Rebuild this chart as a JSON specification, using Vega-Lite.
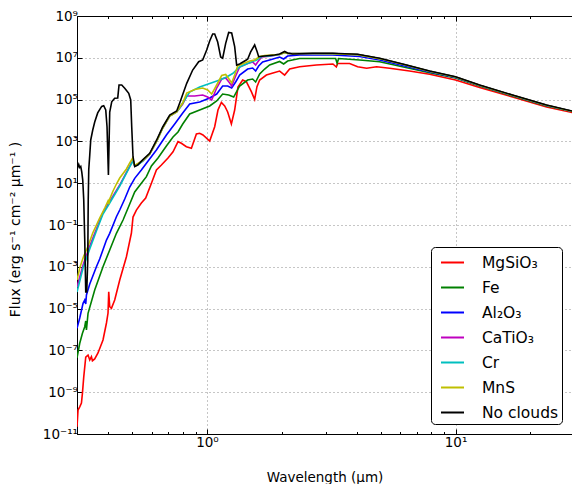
{
  "$schema": "https://vega.github.io/schema/vega-lite/v6.json",
  "width": 495,
  "height": 418,
  "autosize": "none",
  "padding": {"left": 77, "top": 16, "right": 0, "bottom": 50},
  "background": "white",
  "config": {"view": {"stroke": null}, "font": "DejaVu Sans"},
  "datasets": {
    "spectra": [
      {"cloud":"MgSiO₃","wavelength":0.3,"flux":2.2e-11},{"cloud":"MgSiO₃","wavelength":0.3029,"flux":1.4e-10},{"cloud":"MgSiO₃","wavelength":0.3077,"flux":2.0e-10},{"cloud":"MgSiO₃","wavelength":0.3126,"flux":3.0e-10},{"cloud":"MgSiO₃","wavelength":0.3155,"flux":9.0e-10},{"cloud":"MgSiO₃","wavelength":0.3193,"flux":5.3e-9},{"cloud":"MgSiO₃","wavelength":0.3253,"flux":4.8e-8},{"cloud":"MgSiO₃","wavelength":0.3323,"flux":6.0e-8},{"cloud":"MgSiO₃","wavelength":0.3376,"flux":3.5e-8},{"cloud":"MgSiO₃","wavelength":0.3429,"flux":5.0e-8},{"cloud":"MgSiO₃","wavelength":0.3461,"flux":3.2e-8},{"cloud":"MgSiO₃","wavelength":0.3535,"flux":3.9e-8},{"cloud":"MgSiO₃","wavelength":0.3644,"flux":7.5e-8},{"cloud":"MgSiO₃","wavelength":0.3817,"flux":3.15e-7},{"cloud":"MgSiO₃","wavelength":0.3941,"flux":2.05e-6},{"cloud":"MgSiO₃","wavelength":0.3999,"flux":6.15e-6},{"cloud":"MgSiO₃","wavelength":0.4025,"flux":6.4e-5},{"cloud":"MgSiO₃","wavelength":0.4062,"flux":1.23e-5},{"cloud":"MgSiO₃","wavelength":0.4127,"flux":1.03e-5},{"cloud":"MgSiO₃","wavelength":0.4254,"flux":2.6e-5},{"cloud":"MgSiO₃","wavelength":0.4457,"flux":2.33e-4},{"cloud":"MgSiO₃","wavelength":0.4742,"flux":3.04e-3},{"cloud":"MgSiO₃","wavelength":0.4966,"flux":4.14e-2},{"cloud":"MgSiO₃","wavelength":0.504,"flux":0.24},{"cloud":"MgSiO₃","wavelength":0.52,"flux":0.52},{"cloud":"MgSiO₃","wavelength":0.5445,"flux":1.13},{"cloud":"MgSiO₃","wavelength":0.5668,"flux":1.96},{"cloud":"MgSiO₃","wavelength":0.5977,"flux":9.9},{"cloud":"MgSiO₃","wavelength":0.626,"flux":43},{"cloud":"MgSiO₃","wavelength":0.6557,"flux":74},{"cloud":"MgSiO₃","wavelength":0.6969,"flux":160},{"cloud":"MgSiO₃","wavelength":0.7301,"flux":320},{"cloud":"MgSiO₃","wavelength":0.7647,"flux":970},{"cloud":"MgSiO₃","wavelength":0.7888,"flux":810},{"cloud":"MgSiO₃","wavelength":0.8263,"flux":560},{"cloud":"MgSiO₃","wavelength":0.8656,"flux":470},{"cloud":"MgSiO₃","wavelength":0.9066,"flux":2260},{"cloud":"MgSiO₃","wavelength":0.9346,"flux":2440},{"cloud":"MgSiO₃","wavelength":0.9636,"flux":2020},{"cloud":"MgSiO₃","wavelength":1.0254,"flux":1040},{"cloud":"MgSiO₃","wavelength":1.0739,"flux":5050},{"cloud":"MgSiO₃","wavelength":1.1072,"flux":31800},{"cloud":"MgSiO₃","wavelength":1.1426,"flux":72600},{"cloud":"MgSiO₃","wavelength":1.1781,"flux":49400},{"cloud":"MgSiO₃","wavelength":1.2113,"flux":25500},{"cloud":"MgSiO₃","wavelength":1.2535,"flux":6800},{"cloud":"MgSiO₃","wavelength":1.2923,"flux":31800},{"cloud":"MgSiO₃","wavelength":1.3323,"flux":400000},{"cloud":"MgSiO₃","wavelength":1.3914,"flux":867000},{"cloud":"MgSiO₃","wavelength":1.4399,"flux":718000},{"cloud":"MgSiO₃","wavelength":1.5083,"flux":239000},{"cloud":"MgSiO₃","wavelength":1.5552,"flux":101000},{"cloud":"MgSiO₃","wavelength":1.5888,"flux":414000},{"cloud":"MgSiO₃","wavelength":1.6291,"flux":867000},{"cloud":"MgSiO₃","wavelength":1.7335,"flux":1.5e6},{"cloud":"MgSiO₃","wavelength":1.8426,"flux":1.87e6},{"cloud":"MgSiO₃","wavelength":1.96,"flux":2.33e6},{"cloud":"MgSiO₃","wavelength":2.0529,"flux":1.5e6},{"cloud":"MgSiO₃","wavelength":2.1503,"flux":2.91e6},{"cloud":"MgSiO₃","wavelength":2.359,"flux":3.75e6},{"cloud":"MgSiO₃","wavelength":2.7542,"flux":4.53e6},{"cloud":"MgSiO₃","wavelength":3.2113,"flux":5.05e6},{"cloud":"MgSiO₃","wavelength":3.3137,"flux":3.63e6},{"cloud":"MgSiO₃","wavelength":3.3537,"flux":5.33e6},{"cloud":"MgSiO₃","wavelength":3.7478,"flux":5.33e6},{"cloud":"MgSiO₃","wavelength":4.0363,"flux":3.75e6},{"cloud":"MgSiO₃","wavelength":4.3872,"flux":3.15e6},{"cloud":"MgSiO₃","wavelength":4.8128,"flux":3.75e6},{"cloud":"MgSiO₃","wavelength":5.4283,"flux":3.15e6},{"cloud":"MgSiO₃","wavelength":6.5313,"flux":2.33e6},{"cloud":"MgSiO₃","wavelength":7.8634,"flux":1.63e6},{"cloud":"MgSiO₃","wavelength":10,"flux":867000},{"cloud":"MgSiO₃","wavelength":12.49,"flux":379000},{"cloud":"MgSiO₃","wavelength":16.95,"flux":133000},{"cloud":"MgSiO₃","wavelength":23.23,"flux":44300},{"cloud":"MgSiO₃","wavelength":30,"flux":22900},

      {"cloud":"Fe","wavelength":0.3,"flux":4.4e-8},{"cloud":"Fe","wavelength":0.3077,"flux":2.2e-7},{"cloud":"Fe","wavelength":0.3155,"flux":6.6e-7},{"cloud":"Fe","wavelength":0.3223,"flux":1.36e-6},{"cloud":"Fe","wavelength":0.3253,"flux":2.55e-6},{"cloud":"Fe","wavelength":0.3274,"flux":9.5e-7},{"cloud":"Fe","wavelength":0.3323,"flux":5.96e-6},{"cloud":"Fe","wavelength":0.3535,"flux":7.76e-5},{"cloud":"Fe","wavelength":0.3817,"flux":1.01e-3},{"cloud":"Fe","wavelength":0.4062,"flux":6.37e-3},{"cloud":"Fe","wavelength":0.4322,"flux":4.0e-2},{"cloud":"Fe","wavelength":0.4596,"flux":0.173},{"cloud":"Fe","wavelength":0.4889,"flux":1.01},{"cloud":"Fe","wavelength":0.512,"flux":3.79},{"cloud":"Fe","wavelength":0.5445,"flux":9.9},{"cloud":"Fe","wavelength":0.5705,"flux":20.5},{"cloud":"Fe","wavelength":0.5977,"flux":66.5},{"cloud":"Fe","wavelength":0.6353,"flux":161},{"cloud":"Fe","wavelength":0.6866,"flux":603},{"cloud":"Fe","wavelength":0.7301,"flux":1630},{"cloud":"Fe","wavelength":0.7647,"flux":2820},{"cloud":"Fe","wavelength":0.7988,"flux":6800},{"cloud":"Fe","wavelength":0.8519,"flux":20500},{"cloud":"Fe","wavelength":0.9346,"flux":31800},{"cloud":"Fe","wavelength":1.0254,"flux":49400},{"cloud":"Fe","wavelength":1.094,"flux":85700},{"cloud":"Fe","wavelength":1.1564,"flux":185000},{"cloud":"Fe","wavelength":1.2226,"flux":166000},{"cloud":"Fe","wavelength":1.2804,"flux":133000},{"cloud":"Fe","wavelength":1.3534,"flux":448000},{"cloud":"Fe","wavelength":1.4574,"flux":867000},{"cloud":"Fe","wavelength":1.5266,"flux":968000},{"cloud":"Fe","wavelength":1.5697,"flux":695000},{"cloud":"Fe","wavelength":1.6291,"flux":1.68e6},{"cloud":"Fe","wavelength":1.7061,"flux":2.91e6},{"cloud":"Fe","wavelength":1.7868,"flux":4.53e6},{"cloud":"Fe","wavelength":1.96,"flux":6.65e6},{"cloud":"Fe","wavelength":2.0341,"flux":5.05e6},{"cloud":"Fe","wavelength":2.1107,"flux":7.03e6},{"cloud":"Fe","wavelength":2.359,"flux":9.27e6},{"cloud":"Fe","wavelength":3.2926,"flux":9.27e6},{"cloud":"Fe","wavelength":3.3386,"flux":5.5e6},{"cloud":"Fe","wavelength":3.3851,"flux":9.27e6},{"cloud":"Fe","wavelength":4.1115,"flux":7.85e6},{"cloud":"Fe","wavelength":4.9488,"flux":6.5e6},{"cloud":"Fe","wavelength":7.8634,"flux":1.94e6},{"cloud":"Fe","wavelength":10,"flux":1.08e6},{"cloud":"Fe","wavelength":12.49,"flux":448000},{"cloud":"Fe","wavelength":16.95,"flux":149000},{"cloud":"Fe","wavelength":23.23,"flux":49400},{"cloud":"Fe","wavelength":30,"flux":25500},

      {"cloud":"Al₂O₃","wavelength":0.3,"flux":1.14e-6},{"cloud":"Al₂O₃","wavelength":0.3077,"flux":3.55e-6},{"cloud":"Al₂O₃","wavelength":0.3173,"flux":1.79e-5},{"cloud":"Al₂O₃","wavelength":0.3223,"flux":2.58e-5},{"cloud":"Al₂O₃","wavelength":0.3253,"flux":1.66e-5},{"cloud":"Al₂O₃","wavelength":0.3274,"flux":4.48e-5},{"cloud":"Al₂O₃","wavelength":0.3376,"flux":1.5e-4},{"cloud":"Al₂O₃","wavelength":0.3591,"flux":1.01e-3},{"cloud":"Al₂O₃","wavelength":0.3702,"flux":2.36e-3},{"cloud":"Al₂O₃","wavelength":0.3941,"flux":1.91e-2},{"cloud":"Al₂O₃","wavelength":0.4062,"flux":4.0e-2},{"cloud":"Al₂O₃","wavelength":0.4322,"flux":0.249},{"cloud":"Al₂O₃","wavelength":0.4457,"flux":0.522},{"cloud":"Al₂O₃","wavelength":0.4668,"flux":1.75},{"cloud":"Al₂O₃","wavelength":0.4889,"flux":6.58},{"cloud":"Al₂O₃","wavelength":0.512,"flux":17.1},{"cloud":"Al₂O₃","wavelength":0.5445,"flux":42.9},{"cloud":"Al₂O₃","wavelength":0.5705,"flux":89.5},{"cloud":"Al₂O₃","wavelength":0.626,"flux":388},{"cloud":"Al₂O₃","wavelength":0.6866,"flux":2020},{"cloud":"Al₂O₃","wavelength":0.7415,"flux":6800},{"cloud":"Al₂O₃","wavelength":0.7988,"flux":22900},{"cloud":"Al₂O₃","wavelength":0.8519,"flux":61500},{"cloud":"Al₂O₃","wavelength":0.9346,"flux":76700},{"cloud":"Al₂O₃","wavelength":1.0254,"flux":119000},{"cloud":"Al₂O₃","wavelength":1.094,"flux":185000},{"cloud":"Al₂O₃","wavelength":1.1564,"flux":448000},{"cloud":"Al₂O₃","wavelength":1.2113,"flux":448000},{"cloud":"Al₂O₃","wavelength":1.257,"flux":359000},{"cloud":"Al₂O₃","wavelength":1.3042,"flux":695000},{"cloud":"Al₂O₃","wavelength":1.3534,"flux":1.5e6},{"cloud":"Al₂O₃","wavelength":1.4574,"flux":2.91e6},{"cloud":"Al₂O₃","wavelength":1.5266,"flux":3.25e6},{"cloud":"Al₂O₃","wavelength":1.5697,"flux":2.33e6},{"cloud":"Al₂O₃","wavelength":1.6139,"flux":4.06e6},{"cloud":"Al₂O₃","wavelength":1.6749,"flux":6.3e6},{"cloud":"Al₂O₃","wavelength":1.7868,"flux":7.85e6},{"cloud":"Al₂O₃","wavelength":1.96,"flux":1.09e7},{"cloud":"Al₂O₃","wavelength":2.0341,"flux":8.77e6},{"cloud":"Al₂O₃","wavelength":2.1107,"flux":1.22e7},{"cloud":"Al₂O₃","wavelength":2.359,"flux":1.36e7},{"cloud":"Al₂O₃","wavelength":3.2021,"flux":1.36e7},{"cloud":"Al₂O₃","wavelength":4.1115,"flux":1.15e7},{"cloud":"Al₂O₃","wavelength":4.9488,"flux":7.85e6},{"cloud":"Al₂O₃","wavelength":7.8634,"flux":2.09e6},{"cloud":"Al₂O₃","wavelength":10,"flux":1.14e6},{"cloud":"Al₂O₃","wavelength":12.49,"flux":473000},{"cloud":"Al₂O₃","wavelength":16.95,"flux":157000},{"cloud":"Al₂O₃","wavelength":23.23,"flux":52200},{"cloud":"Al₂O₃","wavelength":30,"flux":26400},

      {"cloud":"CaTiO₃","wavelength":0.3,"flux":1.08e-4},{"cloud":"CaTiO₃","wavelength":0.3173,"flux":1.22e-3},{"cloud":"CaTiO₃","wavelength":0.3376,"flux":9.9e-3},{"cloud":"CaTiO₃","wavelength":0.3591,"flux":6.44e-2},{"cloud":"CaTiO₃","wavelength":0.3817,"flux":0.396},{"cloud":"CaTiO₃","wavelength":0.4062,"flux":1.33},{"cloud":"CaTiO₃","wavelength":0.4457,"flux":8.2},{"cloud":"CaTiO₃","wavelength":0.4889,"flux":66.5},{"cloud":"CaTiO₃","wavelength":0.504,"flux":129},{"cloud":"CaTiO₃","wavelength":0.512,"flux":66.5},{"cloud":"CaTiO₃","wavelength":0.5512,"flux":115},{"cloud":"CaTiO₃","wavelength":0.5883,"flux":249},{"cloud":"CaTiO₃","wavelength":0.6275,"flux":1040},{"cloud":"CaTiO₃","wavelength":0.6636,"flux":4380},{"cloud":"CaTiO₃","wavelength":0.708,"flux":16400},{"cloud":"CaTiO₃","wavelength":0.7554,"flux":25500},{"cloud":"CaTiO₃","wavelength":0.7767,"flux":39600},{"cloud":"CaTiO₃","wavelength":0.7988,"flux":61500},{"cloud":"CaTiO₃","wavelength":0.8288,"flux":149000},{"cloud":"CaTiO₃","wavelength":0.8924,"flux":149000},{"cloud":"CaTiO₃","wavelength":0.961,"flux":166000},{"cloud":"CaTiO₃","wavelength":1.0065,"flux":133000},{"cloud":"CaTiO₃","wavelength":1.0445,"flux":95700},{"cloud":"CaTiO₃","wavelength":1.094,"flux":359000},{"cloud":"CaTiO₃","wavelength":1.1459,"flux":968000},{"cloud":"CaTiO₃","wavelength":1.1891,"flux":1.08e6},{"cloud":"CaTiO₃","wavelength":1.2341,"flux":622000},{"cloud":"CaTiO₃","wavelength":1.257,"flux":448000},{"cloud":"CaTiO₃","wavelength":1.3042,"flux":1.35e6},{"cloud":"CaTiO₃","wavelength":1.3534,"flux":3.63e6},{"cloud":"CaTiO₃","wavelength":1.4574,"flux":5.33e6},{"cloud":"CaTiO₃","wavelength":1.5266,"flux":6.3e6},{"cloud":"CaTiO₃","wavelength":1.5697,"flux":4.53e6},{"cloud":"CaTiO₃","wavelength":1.5993,"flux":6.3e6},{"cloud":"CaTiO₃","wavelength":1.6596,"flux":1.09e7},{"cloud":"CaTiO₃","wavelength":1.7868,"flux":1.19e7},{"cloud":"CaTiO₃","wavelength":1.96,"flux":1.44e7},{"cloud":"CaTiO₃","wavelength":2.0529,"flux":1.79e7},{"cloud":"CaTiO₃","wavelength":2.1107,"flux":1.61e7},{"cloud":"CaTiO₃","wavelength":2.359,"flux":1.61e7},{"cloud":"CaTiO₃","wavelength":3.2021,"flux":1.58e7},{"cloud":"CaTiO₃","wavelength":4.0363,"flux":1.42e7},{"cloud":"CaTiO₃","wavelength":4.9488,"flux":9.16e6},{"cloud":"CaTiO₃","wavelength":6.3533,"flux":4.38e6},{"cloud":"CaTiO₃","wavelength":7.8634,"flux":2.26e6},{"cloud":"CaTiO₃","wavelength":10,"flux":1.2e6},{"cloud":"CaTiO₃","wavelength":12.49,"flux":483000},{"cloud":"CaTiO₃","wavelength":16.95,"flux":161000},{"cloud":"CaTiO₃","wavelength":23.23,"flux":53300},{"cloud":"CaTiO₃","wavelength":30,"flux":26100},

      {"cloud":"Cr","wavelength":0.3,"flux":6.22e-5},{"cloud":"Cr","wavelength":0.3173,"flux":8.77e-4},{"cloud":"Cr","wavelength":0.3376,"flux":7.11e-3},{"cloud":"Cr","wavelength":0.3591,"flux":5.16e-2},{"cloud":"Cr","wavelength":0.3817,"flux":0.336},{"cloud":"Cr","wavelength":0.4062,"flux":1.13},{"cloud":"Cr","wavelength":0.4457,"flux":7.35},{"cloud":"Cr","wavelength":0.4889,"flux":59.6},{"cloud":"Cr","wavelength":0.504,"flux":115},{"cloud":"Cr","wavelength":0.512,"flux":66.5},{"cloud":"Cr","wavelength":0.5264,"flux":74.3},{"cloud":"Cr","wavelength":0.5512,"flux":115},{"cloud":"Cr","wavelength":0.5883,"flux":249},{"cloud":"Cr","wavelength":0.6275,"flux":1040},{"cloud":"Cr","wavelength":0.6636,"flux":4380},{"cloud":"Cr","wavelength":0.708,"flux":16400},{"cloud":"Cr","wavelength":0.7554,"flux":25500},{"cloud":"Cr","wavelength":0.7767,"flux":39600},{"cloud":"Cr","wavelength":0.7988,"flux":68700},{"cloud":"Cr","wavelength":0.8519,"flux":231000},{"cloud":"Cr","wavelength":0.9346,"flux":401000},{"cloud":"Cr","wavelength":1.0254,"flux":589000},{"cloud":"Cr","wavelength":1.1247,"flux":867000},{"cloud":"Cr","wavelength":1.2,"flux":1.2e6},{"cloud":"Cr","wavelength":1.2686,"flux":1.77e6},{"cloud":"Cr","wavelength":1.3534,"flux":3.63e6},{"cloud":"Cr","wavelength":1.4574,"flux":5.33e6},{"cloud":"Cr","wavelength":1.5844,"flux":7.85e6},{"cloud":"Cr","wavelength":1.6596,"flux":1.15e7},{"cloud":"Cr","wavelength":1.7868,"flux":1.22e7},{"cloud":"Cr","wavelength":1.96,"flux":1.44e7},{"cloud":"Cr","wavelength":2.0529,"flux":1.79e7},{"cloud":"Cr","wavelength":2.1107,"flux":1.61e7},{"cloud":"Cr","wavelength":2.359,"flux":1.61e7},{"cloud":"Cr","wavelength":3.2021,"flux":1.58e7},{"cloud":"Cr","wavelength":4.0363,"flux":1.42e7},{"cloud":"Cr","wavelength":4.9488,"flux":9.16e6},{"cloud":"Cr","wavelength":6.3533,"flux":4.38e6},{"cloud":"Cr","wavelength":7.8634,"flux":2.26e6},{"cloud":"Cr","wavelength":10,"flux":1.2e6},{"cloud":"Cr","wavelength":12.49,"flux":483000},{"cloud":"Cr","wavelength":16.95,"flux":161000},{"cloud":"Cr","wavelength":23.23,"flux":53300},{"cloud":"Cr","wavelength":30,"flux":26100},

      {"cloud":"MnS","wavelength":0.3,"flux":2.33e-4},{"cloud":"MnS","wavelength":0.3077,"flux":8.77e-4},{"cloud":"MnS","wavelength":0.3193,"flux":3.29e-3},{"cloud":"MnS","wavelength":0.3314,"flux":8.85e-3},{"cloud":"MnS","wavelength":0.3471,"flux":4.14e-2},{"cloud":"MnS","wavelength":0.3702,"flux":0.216},{"cloud":"MnS","wavelength":0.3879,"flux":0.65},{"cloud":"MnS","wavelength":0.3999,"flux":1.41},{"cloud":"MnS","wavelength":0.4025,"flux":1.01},{"cloud":"MnS","wavelength":0.4062,"flux":1.75},{"cloud":"MnS","wavelength":0.4188,"flux":4.24},{"cloud":"MnS","wavelength":0.4322,"flux":9.16},{"cloud":"MnS","wavelength":0.4457,"flux":17.7},{"cloud":"MnS","wavelength":0.4742,"flux":47.8},{"cloud":"MnS","wavelength":0.4889,"flux":92.7},{"cloud":"MnS","wavelength":0.5026,"flux":161},{"cloud":"MnS","wavelength":0.512,"flux":70.3},{"cloud":"MnS","wavelength":0.5512,"flux":122},{"cloud":"MnS","wavelength":0.5883,"flux":249},{"cloud":"MnS","wavelength":0.6275,"flux":1040},{"cloud":"MnS","wavelength":0.6636,"flux":4380},{"cloud":"MnS","wavelength":0.708,"flux":16400},{"cloud":"MnS","wavelength":0.7554,"flux":25500},{"cloud":"MnS","wavelength":0.7767,"flux":44300},{"cloud":"MnS","wavelength":0.7988,"flux":68700},{"cloud":"MnS","wavelength":0.8288,"flux":207000},{"cloud":"MnS","wavelength":0.8924,"flux":304000},{"cloud":"MnS","wavelength":0.961,"flux":359000},{"cloud":"MnS","wavelength":1.0065,"flux":288000},{"cloud":"MnS","wavelength":1.0445,"flux":185000},{"cloud":"MnS","wavelength":1.094,"flux":500000},{"cloud":"MnS","wavelength":1.1459,"flux":1.42e6},{"cloud":"MnS","wavelength":1.1891,"flux":1.59e6},{"cloud":"MnS","wavelength":1.2341,"flux":867000},{"cloud":"MnS","wavelength":1.257,"flux":622000},{"cloud":"MnS","wavelength":1.2923,"flux":1.5e6},{"cloud":"MnS","wavelength":1.3286,"flux":4.06e6},{"cloud":"MnS","wavelength":1.4175,"flux":5.64e6},{"cloud":"MnS","wavelength":1.4848,"flux":7.03e6},{"cloud":"MnS","wavelength":1.5552,"flux":7.85e6},{"cloud":"MnS","wavelength":1.6291,"flux":1.15e7},{"cloud":"MnS","wavelength":1.7061,"flux":1.29e7},{"cloud":"MnS","wavelength":1.96,"flux":1.44e7},{"cloud":"MnS","wavelength":2.0529,"flux":1.78e7},{"cloud":"MnS","wavelength":2.1107,"flux":1.61e7},{"cloud":"MnS","wavelength":2.359,"flux":1.61e7},{"cloud":"MnS","wavelength":3.2021,"flux":1.58e7},{"cloud":"MnS","wavelength":4.0363,"flux":1.42e7},{"cloud":"MnS","wavelength":4.9488,"flux":9.16e6},{"cloud":"MnS","wavelength":6.3533,"flux":4.38e6},{"cloud":"MnS","wavelength":7.8634,"flux":2.26e6},{"cloud":"MnS","wavelength":10,"flux":1.2e6},{"cloud":"MnS","wavelength":12.49,"flux":483000},{"cloud":"MnS","wavelength":16.95,"flux":161000},{"cloud":"MnS","wavelength":23.23,"flux":53300},{"cloud":"MnS","wavelength":30,"flux":26100},

      {"cloud":"No clouds","wavelength":0.3,"flux":45},{"cloud":"No clouds","wavelength":0.3048,"flux":79},{"cloud":"No clouds","wavelength":0.3077,"flux":56},{"cloud":"No clouds","wavelength":0.3106,"flux":63},{"cloud":"No clouds","wavelength":0.3135,"flux":35},{"cloud":"No clouds","wavelength":0.3164,"flux":14},{"cloud":"No clouds","wavelength":0.3193,"flux":1.6},{"cloud":"No clouds","wavelength":0.3223,"flux":0.02},{"cloud":"No clouds","wavelength":0.3253,"flux":6.3e-5},{"cloud":"No clouds","wavelength":0.3283,"flux":6.3e-5},{"cloud":"No clouds","wavelength":0.3314,"flux":2.0e-3},{"cloud":"No clouds","wavelength":0.3329,"flux":1.6},{"cloud":"No clouds","wavelength":0.3345,"flux":45},{"cloud":"No clouds","wavelength":0.3376,"flux":220},{"cloud":"No clouds","wavelength":0.3407,"flux":1170},{"cloud":"No clouds","wavelength":0.3471,"flux":3500},{"cloud":"No clouds","wavelength":0.3535,"flux":8500},{"cloud":"No clouds","wavelength":0.3634,"flux":23000},{"cloud":"No clouds","wavelength":0.3771,"flux":47000},{"cloud":"No clouds","wavelength":0.3842,"flux":51000},{"cloud":"No clouds","wavelength":0.3915,"flux":32000},{"cloud":"No clouds","wavelength":0.3962,"flux":5000},{"cloud":"No clouds","wavelength":0.4013,"flux":25},{"cloud":"No clouds","wavelength":0.4062,"flux":25500},{"cloud":"No clouds","wavelength":0.4138,"flux":79000},{"cloud":"No clouds","wavelength":0.4254,"flux":115000},{"cloud":"No clouds","wavelength":0.4375,"flux":120000},{"cloud":"No clouds","wavelength":0.4428,"flux":500000},{"cloud":"No clouds","wavelength":0.454,"flux":500000},{"cloud":"No clouds","wavelength":0.4668,"flux":350000},{"cloud":"No clouds","wavelength":0.4844,"flux":200000},{"cloud":"No clouds","wavelength":0.4934,"flux":96000},{"cloud":"No clouds","wavelength":0.498,"flux":5000},{"cloud":"No clouds","wavelength":0.504,"flux":185},{"cloud":"No clouds","wavelength":0.512,"flux":62},{"cloud":"No clouds","wavelength":0.5264,"flux":74},{"cloud":"No clouds","wavelength":0.5512,"flux":130},{"cloud":"No clouds","wavelength":0.5883,"flux":270},{"cloud":"No clouds","wavelength":0.6275,"flux":1170},{"cloud":"No clouds","wavelength":0.6636,"flux":4900},{"cloud":"No clouds","wavelength":0.708,"flux":18000},{"cloud":"No clouds","wavelength":0.7554,"flux":28500},{"cloud":"No clouds","wavelength":0.7767,"flux":69000},{"cloud":"No clouds","wavelength":0.8288,"flux":600000},{"cloud":"No clouds","wavelength":0.8759,"flux":2.6e6},{"cloud":"No clouds","wavelength":0.926,"flux":6.5e6},{"cloud":"No clouds","wavelength":0.961,"flux":7.85e6},{"cloud":"No clouds","wavelength":0.9972,"flux":2.36e7},{"cloud":"No clouds","wavelength":1.0254,"flux":6.4e7},{"cloud":"No clouds","wavelength":1.0542,"flux":1.38e8},{"cloud":"No clouds","wavelength":1.0739,"flux":1.38e8},{"cloud":"No clouds","wavelength":1.1042,"flux":5.7e7},{"cloud":"No clouds","wavelength":1.1352,"flux":1.09e7},{"cloud":"No clouds","wavelength":1.1564,"flux":9.5e6},{"cloud":"No clouds","wavelength":1.1891,"flux":4.9e7},{"cloud":"No clouds","wavelength":1.2226,"flux":1.63e8},{"cloud":"No clouds","wavelength":1.257,"flux":1.54e8},{"cloud":"No clouds","wavelength":1.2923,"flux":3.4e7},{"cloud":"No clouds","wavelength":1.3164,"flux":4.5e6},{"cloud":"No clouds","wavelength":1.3534,"flux":5.05e6},{"cloud":"No clouds","wavelength":1.4175,"flux":7.0e6},{"cloud":"No clouds","wavelength":1.4574,"flux":8.5e6},{"cloud":"No clouds","wavelength":1.4985,"flux":1.9e7},{"cloud":"No clouds","wavelength":1.5552,"flux":4.1e7},{"cloud":"No clouds","wavelength":1.5916,"flux":1.96e7},{"cloud":"No clouds","wavelength":1.6139,"flux":1.13e7},{"cloud":"No clouds","wavelength":1.7061,"flux":1.22e7},{"cloud":"No clouds","wavelength":1.8714,"flux":1.36e7},{"cloud":"No clouds","wavelength":1.96,"flux":1.52e7},{"cloud":"No clouds","wavelength":2.0529,"flux":2.0e7},{"cloud":"No clouds","wavelength":2.1107,"flux":1.7e7},{"cloud":"No clouds","wavelength":2.2108,"flux":1.52e7},{"cloud":"No clouds","wavelength":2.6607,"flux":1.64e7},{"cloud":"No clouds","wavelength":3.2021,"flux":1.64e7},{"cloud":"No clouds","wavelength":4.0363,"flux":1.47e7},{"cloud":"No clouds","wavelength":4.9488,"flux":9.5e6},{"cloud":"No clouds","wavelength":6.3533,"flux":4.5e6},{"cloud":"No clouds","wavelength":7.8634,"flux":2.33e6},{"cloud":"No clouds","wavelength":10,"flux":1.25e6},{"cloud":"No clouds","wavelength":12.49,"flux":500000},{"cloud":"No clouds","wavelength":16.95,"flux":166000},{"cloud":"No clouds","wavelength":23.23,"flux":55000},{"cloud":"No clouds","wavelength":30,"flux":27000}
    ]
  },
  "data": {"name": "spectra"},
  "layer": [
    {
      "mark": {"type": "line", "clip": true, "strokeWidth": 1.6},
      "encoding": {
        "x": {
          "field": "wavelength", "type": "quantitative",
          "scale": {"type": "log", "domain": [0.3, 29.4], "nice": false},
          "axis": {
            "orient": "bottom",
            "values": [0.3,0.4,0.5,0.6,0.7,0.8,0.9,1,2,3,4,5,6,7,8,9,10,20],
            "labelExpr": "datum.value == 1 ? '10⁰' : datum.value == 10 ? '10¹' : ''",
            "labelOverlap": false, "labelFlush": false,
            "labelFontSize": 13.5, "labelColor": "#000", "labelPadding": 6,
            "tickColor": "#000", "tickWidth": 1,
            "tickSize": {"condition": {"test": "datum.value == 1 || datum.value == 10", "value": -5}, "value": -2.5},
            "domainColor": "#000", "domainWidth": 1,
            "grid": true, "gridDash": [1, 3], "gridColor": "#8c8c8c", "gridWidth": 1,
            "gridOpacity": {"condition": {"test": "datum.value == 1 || datum.value == 10", "value": 1}, "value": 0},
            "title": "Wavelength (μm)", "titleFontSize": 13.5, "titleFontWeight": "normal", "titleColor": "#000",
            "titleBaseline": "alphabetic", "titleY": 47
          }
        },
        "y": {
          "field": "flux", "type": "quantitative",
          "scale": {"type": "log", "domain": [1e-11, 1e9], "nice": false},
          "axis": {
            "orient": "left",
            "values": [1e9, 1e7, 1e5, 1000, 10, 0.1, 0.001, 1e-5, 1e-7, 1e-9, 1e-11],
            "labelExpr": "datum.value == 1e9 ? '10⁹' : datum.value == 1e7 ? '10⁷' : datum.value == 1e5 ? '10⁵' : datum.value == 1000 ? '10³' : datum.value == 10 ? '10¹' : datum.value == 0.1 ? '10⁻¹' : datum.value == 0.001 ? '10⁻³' : datum.value == 1e-5 ? '10⁻⁵' : datum.value == 1e-7 ? '10⁻⁷' : datum.value == 1e-9 ? '10⁻⁹' : '10⁻¹¹'",
            "labelOverlap": false, "labelFlush": false,
            "labelFontSize": 13.5, "labelColor": "#000", "labelPadding": 4.5,
            "tickColor": "#000", "tickSize": -5, "tickWidth": 1,
            "domainColor": "#000", "domainWidth": 1,
            "grid": true, "gridDash": [1, 3], "gridColor": "#8c8c8c", "gridWidth": 1,
            "title": "Flux (erg s⁻¹  cm⁻²  μm⁻¹ )", "titleFontSize": 14, "titleFontWeight": "normal", "titleColor": "#000",
            "titleX": -62, "titleY": 213, "titleAngle": -90, "titleBaseline": "middle", "titleAlign": "center"
          }
        },
        "color": {
          "field": "cloud", "type": "nominal",
          "scale": {
            "domain": ["MgSiO₃", "Fe", "Al₂O₃", "CaTiO₃", "Cr", "MnS", "No clouds"],
            "range": ["#ff0000", "#008000", "#0000ff", "#bf00bf", "#00bfbf", "#bfbf00", "#000000"]
          },
          "legend": {
            "orient": "none", "legendX": 354, "legendY": 231,
            "title": null, "symbolType": "stroke", "symbolSize": 529, "symbolStrokeWidth": 2,
            "labelFontSize": 15.5, "labelColor": "#000", "labelOffset": 17,
            "padding": 3, "symbolOffset": 6, "rowPadding": 4,
            "strokeColor": "#000", "fillColor": "#ffffff", "cornerRadius": 4
          }
        }
      }
    },
    {
      "mark": {"type": "point", "opacity": 0},
      "encoding": {
        "x": {
          "field": "wavelength", "type": "quantitative",
          "scale": {"type": "log", "domain": [0.3, 29.4], "nice": false},
          "axis": {
            "orient": "top",
            "values": [0.3,0.4,0.5,0.6,0.7,0.8,0.9,1,2,3,4,5,6,7,8,9,10,20],
            "labels": false, "grid": false, "title": null,
            "tickColor": "#000", "tickWidth": 1,
            "tickSize": {"condition": {"test": "datum.value == 1 || datum.value == 10", "value": -5}, "value": -2.5},
            "domainColor": "#000", "domainWidth": 1
          }
        }
      }
    }
  ],
  "resolve": {"axis": {"x": "independent"}}
}
